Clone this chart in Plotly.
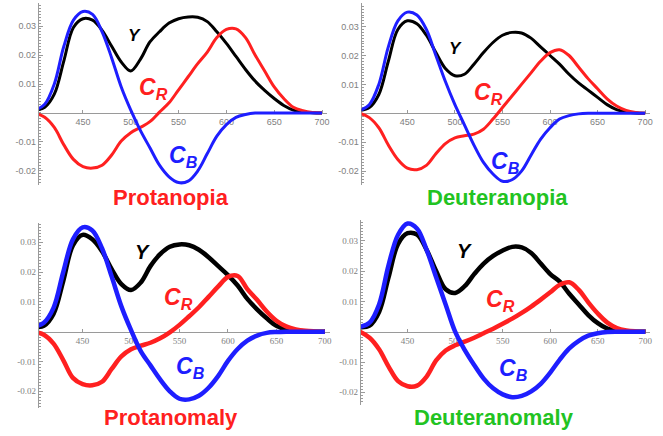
import plotly.graph_objects as go

W, H = 663, 436

# ---------------- data ----------------
wavelength = list(range(400, 701, 10))

x_tick_vals = [450, 500, 550, 600, 650, 700]
x_tick_text = ["450", "500", "550", "600", "650", "700"]
y_tick_vals = [-0.02, -0.01, 0.01, 0.02, 0.03]
y_tick_text = ["-0.02", "-0.01", "0.01", "0.02", "0.03"]

panel_titles = ["Protanopia", "Deuteranopia", "Protanomaly", "Deuteranomaly"]

# Protanopia
y_protanopia = [0.001, 0.002, 0.0065, 0.018, 0.0295, 0.0325, 0.032, 0.0285, 0.023, 0.0176,
                0.0145, 0.0185, 0.0245, 0.028, 0.031, 0.0325, 0.0331, 0.033, 0.0315, 0.028,
                0.024, 0.0195, 0.015, 0.011, 0.0078, 0.005, 0.0026, 0.001, 0.0003, 0.0001, 0.0]
cr_protanopia = [0.0, -0.0015, -0.005, -0.011, -0.016, -0.0185, -0.019, -0.018, -0.0145, -0.0097,
                 -0.0068, -0.005, -0.003, 0.0003, 0.0035, 0.008, 0.0125, 0.017, 0.021, 0.026,
                 0.0288, 0.029, 0.026, 0.020, 0.0145, 0.009, 0.005, 0.002, 0.0008, 0.0002, 0.0]
cb_protanopia = [0.001, 0.003, 0.010, 0.023, 0.032, 0.035, 0.034, 0.028, 0.019, 0.009,
                 0.001, -0.006, -0.012, -0.018, -0.022, -0.024, -0.0235, -0.020, -0.014, -0.008,
                 -0.004, -0.0015, -0.0005, 0.0, 0.0, 0.0, 0.0, 0.0, 0.0, 0.0, 0.0]

# Deuteranopia
y_deuteranopia = [0.001, 0.002, 0.0065, 0.018, 0.029, 0.032, 0.031, 0.027, 0.021, 0.0155,
                  0.013, 0.0135, 0.017, 0.021, 0.0245, 0.027, 0.028, 0.0278, 0.026, 0.023,
                  0.020, 0.017, 0.0135, 0.0105, 0.008, 0.0055, 0.003, 0.0013, 0.0005, 0.0001, 0.0]
cr_deuteranopia = [0.0, -0.0015, -0.005, -0.011, -0.016, -0.019, -0.0195, -0.018, -0.014, -0.0105,
                   -0.0085, -0.0078, -0.0072, -0.0055, -0.002, 0.002, 0.006, 0.010, 0.014, 0.018,
                   0.021, 0.022, 0.020, 0.016, 0.012, 0.0085, 0.005, 0.0025, 0.001, 0.0003, 0.0]
cb_deuteranopia = [0.001, 0.003, 0.010, 0.023, 0.032, 0.035, 0.034, 0.029, 0.020, 0.011,
                   0.003, -0.004, -0.011, -0.017, -0.021, -0.0235, -0.023, -0.020, -0.0145, -0.009,
                   -0.005, -0.002, -0.0008, -0.0002, 0.0, 0.0, 0.0, 0.0, 0.0, 0.0, 0.0]

# Protanomaly
y_protanomaly = [0.0015, 0.002, 0.006, 0.017, 0.029, 0.0325, 0.031, 0.027, 0.021, 0.016,
                 0.014, 0.0165, 0.022, 0.026, 0.0285, 0.0293, 0.029, 0.0275, 0.025, 0.022,
                 0.019, 0.0155, 0.011, 0.0075, 0.0045, 0.002, 0.0008, 0.0003, 0.0001, 0.0, 0.0]
cr_protanomaly = [0.0, -0.001, -0.004, -0.0095, -0.0155, -0.0176, -0.018, -0.0168, -0.0125, -0.0083,
                  -0.0059, -0.0047, -0.0037, -0.0022, -0.0002, 0.0023, 0.0052, 0.0082, 0.0117, 0.0152,
                  0.0184, 0.0187, 0.0143, 0.0107, 0.0068, 0.0037, 0.0018, 0.0008, 0.0003, 0.0001, 0.0]
cb_protanomaly = [0.0017, 0.003, 0.008, 0.020, 0.031, 0.035, 0.034, 0.028, 0.0185, 0.0085,
                  0.0005, -0.0065, -0.0113, -0.016, -0.020, -0.0225, -0.0227, -0.0215, -0.0188, -0.0148,
                  -0.0098, -0.0058, -0.003, -0.0013, -0.0004, -0.0001, 0.0, 0.0, 0.0, 0.0, 0.0]

# Deuteranomaly
y_deuteranomaly = [0.0015, 0.002, 0.0065, 0.018, 0.029, 0.0325, 0.032, 0.027, 0.020, 0.014,
                   0.0128, 0.015, 0.019, 0.0225, 0.025, 0.0268, 0.028, 0.0278, 0.026, 0.0225,
                   0.019, 0.0165, 0.0125, 0.009, 0.0055, 0.0028, 0.001, 0.0003, 0.0001, 0.0, 0.0]
cr_deuteranomaly = [0.0, -0.002, -0.0058, -0.0115, -0.0163, -0.018, -0.0178, -0.0148, -0.0095, -0.0062,
                    -0.0045, -0.0033, -0.002, -0.0005, 0.001, 0.0026, 0.0043, 0.0062, 0.0083, 0.0106,
                    0.013, 0.0155, 0.0163, 0.0138, 0.0097, 0.006, 0.003, 0.0012, 0.0004, 0.0001, 0.0]
cb_deuteranomaly = [0.0016, 0.003, 0.009, 0.022, 0.032, 0.0357, 0.034, 0.027, 0.018, 0.009,
                    0.0, -0.006, -0.011, -0.0155, -0.0187, -0.0207, -0.0216, -0.0212, -0.0197, -0.0172,
                    -0.0135, -0.0092, -0.0055, -0.003, -0.0013, -0.0005, -0.0001, 0.0, 0.0, 0.0, 0.0]

series = [
    (y_protanopia, cr_protanopia, cb_protanopia),
    (y_deuteranopia, cr_deuteranopia, cb_deuteranopia),
    (y_protanomaly, cr_protanomaly, cb_protanomaly),
    (y_deuteranomaly, cr_deuteranomaly, cb_deuteranomaly),
]

# ---------------- layout (pixel geometry) ----------------
RED = "#ff2020"
BLUE = "#1e1eff"
BLACK = "#000000"
GREEN = "#22c322"
AXIS = "#9a9a9a"
TICKTXT = "#808080"
SANS = "Liberation Sans, Arial, sans-serif"
SERIF = "Liberation Serif, Times New Roman, serif"

panels = [
    dict(xr=[404, 705], xpx=[39, 326.8], ypx=[3, 185], yr=[-0.02483, 0.03793], zero=113,
         lw=3, font=SANS, tcol=RED, title_px=(171, 197), ysize=17,
         lab_y=(134, 35), lab_cr=(153, 88), lab_cb=(183, 156)),
    dict(xr=[402, 705], xpx=[361.7, 649.9], ypx=[3.3, 185], yr=[-0.02481, 0.03806], zero=113.3,
         lw=3, font=SANS, tcol=GREEN, title_px=(497, 197), ysize=17,
         lab_y=(455, 48), lab_cr=(488, 93), lab_cb=(506, 162)),
    dict(xr=[405, 705], xpx=[39, 329.7], ypx=[223.3, 408], yr=[-0.0256, 0.03638], zero=331.7,
         lw=4.5, font=SERIF, tcol=RED, title_px=(171, 417), ysize=20,
         lab_y=(142, 252), lab_cr=(178, 298), lab_cb=(190, 367)),
    dict(xr=[401, 705], xpx=[361, 650.1], ypx=[220, 405], yr=[-0.02419, 0.03686], zero=331.7,
         lw=4.5, font=SERIF, tcol=GREEN, title_px=(494, 417), ysize=20,
         lab_y=(465, 251), lab_cr=(500, 300), lab_cb=(513, 369)),
]


def px_x(p):
    return p / W


def px_y(p):
    return 1 - p / H


fig = go.Figure()
layout = dict(width=W, height=H, margin=dict(l=0, r=0, t=0, b=0, pad=0), template="none",
              paper_bgcolor="white", plot_bgcolor="white", showlegend=False)
annotations = []

for i, (pn, (ys, crs, cbs)) in enumerate(zip(panels, series)):
    n = i + 1
    xa = "x" if n == 1 else f"x{n}"
    ya = "y" if n == 1 else f"y{n}"
    for vals, col in ((ys, BLACK), (crs, RED), (cbs, BLUE)):
        fig.add_trace(go.Scatter(x=wavelength, y=vals, mode="lines", xaxis=xa, yaxis=ya,
                                 line=dict(color=col, width=pn["lw"], shape="spline", smoothing=1.0),
                                 hoverinfo="skip"))
    xkey = "xaxis" if n == 1 else f"xaxis{n}"
    ykey = "yaxis" if n == 1 else f"yaxis{n}"
    layout[xkey] = dict(
        domain=[px_x(pn["xpx"][0]), px_x(pn["xpx"][1])], range=pn["xr"],
        anchor="free", position=px_y(pn["zero"]), automargin=False,
        showline=True, linecolor=AXIS, linewidth=1.3, layer="below traces",
        ticks="inside", ticklen=3, tickcolor=AXIS, tickwidth=1,
        tickmode="array", tickvals=x_tick_vals, ticktext=x_tick_text,
        tickfont=dict(family=pn["font"], size=9, color=TICKTXT),
        showgrid=False, zeroline=False, fixedrange=True,
    )
    layout[ykey] = dict(
        domain=[px_y(pn["ypx"][1]), px_y(pn["ypx"][0])], range=pn["yr"],
        anchor=xa, automargin=False, showline=True, linecolor=AXIS, linewidth=1.2,
        layer="below traces",
        ticks="inside", ticklen=4, tickcolor=AXIS, tickwidth=1,
        tickmode="array", tickvals=y_tick_vals, ticktext=y_tick_text,
        tickfont=dict(family=pn["font"], size=9, color=TICKTXT),
        minor=dict(dtick=0.001, tick0=0, ticks="inside", ticklen=2, tickcolor=AXIS, tickwidth=1),
        showgrid=False, zeroline=False, fixedrange=True,
    )
    annotations.append(dict(text=f"<b>{panel_titles[i]}</b>", xref="paper", yref="paper",
                            x=px_x(pn["title_px"][0]), y=px_y(pn["title_px"][1]),
                            xanchor="center", yanchor="middle", showarrow=False,
                            font=dict(family=SANS, size=22, color=pn["tcol"])))
    annotations.append(dict(text="<b><i>Y</i></b>", xref="paper", yref="paper",
                            x=px_x(pn["lab_y"][0]), y=px_y(pn["lab_y"][1]),
                            xanchor="center", yanchor="middle", showarrow=False,
                            font=dict(family=SANS, size=pn["ysize"], color=BLACK)))
    annotations.append(dict(text="<b><i>C<sub>R</sub></i></b>", xref="paper", yref="paper",
                            x=px_x(pn["lab_cr"][0]), y=px_y(pn["lab_cr"][1]),
                            xanchor="center", yanchor="middle", showarrow=False,
                            font=dict(family=SANS, size=23, color=RED)))
    annotations.append(dict(text="<b><i>C<sub>B</sub></i></b>", xref="paper", yref="paper",
                            x=px_x(pn["lab_cb"][0]), y=px_y(pn["lab_cb"][1]),
                            xanchor="center", yanchor="middle", showarrow=False,
                            font=dict(family=SANS, size=23, color=BLUE)))

layout["annotations"] = annotations
fig.update_layout(**layout)
fig.write_html("out.html", config={"displayModeBar": False},
               post_script="document.body.style.margin='0';document.body.style.overflow='hidden';")
